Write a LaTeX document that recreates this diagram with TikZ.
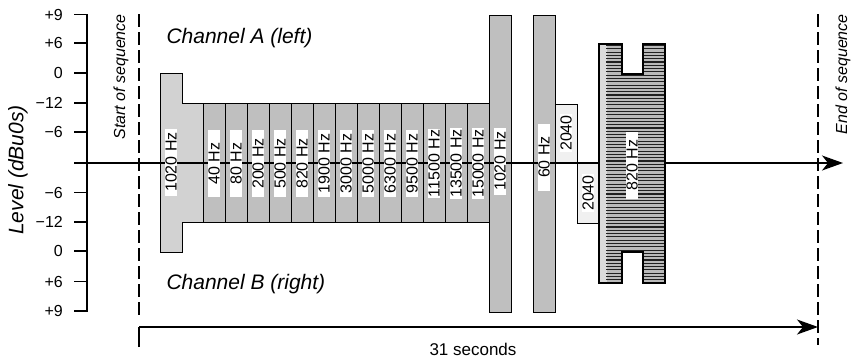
\documentclass[tikz,border=0pt]{standalone}
\usepackage{fontspec}
\setmainfont{Liberation Sans}
\usetikzlibrary{arrows.meta}

\tikzset{
  lvl/.style={font=\fontsize{16}{18}\selectfont,anchor=east,inner sep=1pt},
  hz/.style={rotate=90,fill=white,inner xsep=1pt,inner ysep=0.5pt,minimum width=67pt,font=\fontsize{16}{17}\selectfont},
  band/.style={draw,line width=1pt,fill=gray!50},
  seqline/.style={line width=1.1pt,dash pattern=on 13pt off 5pt},
  bigarrow/.style={line width=1.4pt,-{Stealth[length=21pt,width=15pt,inset=6pt]}},
  itl/.style={font=\itshape\fontsize{#1}{#1}\selectfont},
}

\begin{document}
\begin{tikzpicture}[x=1pt,y=-1pt]
\useasboundingbox (0,0) rectangle (854,359);

% Level scale
\draw[line width=1.2pt] (74,14.5) -- (87,14.5) -- (87,311) -- (74,311);
\foreach \y/\t [count=\i] in {14.5/+9,43/+6,73/0,103/−12,132/−6,192.5/−6,222/−12,251/0,281.5/+6,311/+9}
{
  \draw[line width=1.2pt] (74,\y) -- (87,\y);
  \node[lvl] (lv\i) at (64,\y) {\t};
}
\node[itl=21,rotate=90] (level) at (18,170) {Level (dBu0s)};

% Start and end of sequence
\draw[seqline] (139,14) -- (139,318);
\draw[seqline] (818,14) -- (818,345);
\node[itl=16,rotate=90,anchor=east,inner sep=0pt] (start) at (121,14) {Start of sequence};
\node[itl=16,rotate=90,anchor=east,inner sep=0pt] (end) at (843,14) {End of sequence};

% Channels
\node[itl=21,anchor=west] (chA) at (163,38) {Channel A (left)};
\node[itl=21,anchor=west] (chB) at (163,284) {Channel B (right)};

% First 1020 Hz block
\draw[line width=1pt,fill=gray!35] (160,73) -- (182,73) -- (182,103) -- (203,103) -- (203,222)
  -- (182,222) -- (182,252) -- (160,252) -- cycle;

% Frequency sweep
\foreach \f [count=\i from 0] in {40,80,200,500,820,1900,3000,5000,6300,9500,11500,13500,15000}
  \draw[band] ({203+22*\i},103) rectangle ++(22,119);

% Tall 1020 Hz and 60 Hz blocks
\draw[band] (489,15) rectangle (511,312);
\draw[band] (533,15) rectangle (555,312);

% 2040 Hz, one channel at a time
\draw[line width=1pt,fill=gray!12] (555,104) rectangle (577,163);
\draw[line width=1pt,fill=gray!12] (577,163) rectangle (599,223);

% Time axis
\coordinate (c0) at (74,163);
\coordinate (c1) at (843,163);
\draw[bigarrow] (c0) -- (c1);

% 820 Hz block
\begin{scope}
\clip (599,44) -- (622,44) -- (622,74) -- (643,74) -- (643,44) -- (665,44) -- (665,283)
  -- (643,283) -- (643,252) -- (622,252) -- (622,283) -- (599,283) -- cycle;
\fill[gray!55] (599,44) rectangle (665,283);
\fill[gray!30] (599,44) rectangle (607,283);
\foreach \y in {45.5,48.8,...,283}
  \draw[line width=1.1pt,gray!25!black] (606,\y) -- (665,\y);
\end{scope}
\draw[line width=1.2pt] (599,44) -- (622,44) -- (622,74) -- (643,74) -- (643,44) -- (665,44) -- (665,283)
  -- (643,283) -- (643,252) -- (622,252) -- (622,283) -- (599,283) -- cycle;

% Labels
\node[hz] (f1020a) at (171,162) {1020 Hz};
\foreach \f [count=\i from 0] in {40,80,200,500,820,1900,3000,5000,6300,9500,11500,13500,15000}
  \node[hz] (s\i) at ({214+22*\i},163.5) {\f\ Hz};
\node[hz] (f1020b) at (500,161) {1020 Hz};
\node[hz] (f60) at (544,157) {60 Hz};
\node[hz,minimum width=0pt] (f2040a) at (566,133) {2040};
\node[hz,minimum width=0pt] (f2040b) at (588,193) {2040};
\node[hz] (f820) at (632,165) {820 Hz};

% Duration
\coordinate (d0) at (139,347);
\coordinate (d1) at (139,327);
\coordinate (d2) at (818,327);
\draw[line width=1.2pt] (d0) -- (d1);
\draw[bigarrow] (d1) -- (d2);
\node[font=\fontsize{17}{18}\selectfont,inner sep=0pt] (dur) at (473,349) {31 seconds};
\end{tikzpicture}
\end{document}
